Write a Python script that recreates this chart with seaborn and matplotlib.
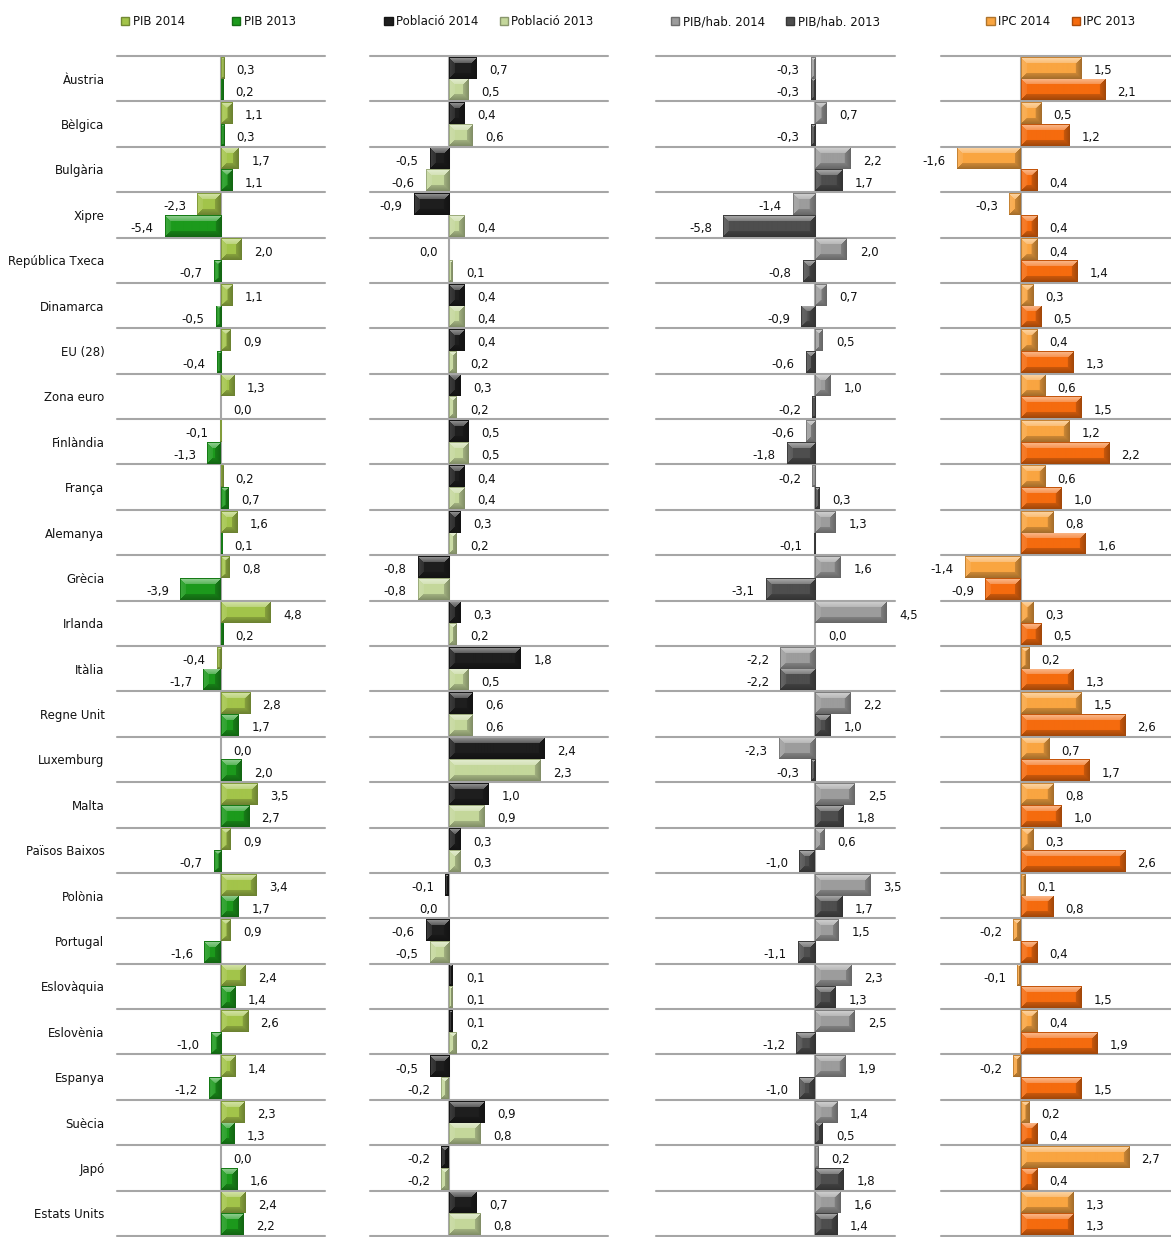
import matplotlib
matplotlib.use('Agg')
import matplotlib.pyplot as plt
import matplotlib.colors as mcolors
from matplotlib.patches import Patch
import numpy as np
import pandas as pd
import seaborn as sns

# --- data ---
countries = ['Àustria', 'Bèlgica', 'Bulgària', 'Xipre', 'República Txeca', 'Dinamarca',
             'EU (28)', 'Zona euro', 'Finlàndia', 'França', 'Alemanya', 'Grècia', 'Irlanda',
             'Itàlia', 'Regne Unit', 'Luxemburg', 'Malta', 'Països Baixos', 'Polònia',
             'Portugal', 'Eslovàquia', 'Eslovènia', 'Espanya', 'Suècia', 'Japó', 'Estats Units']

pib_2014 = [0.3, 1.1, 1.7, -2.3, 2.0, 1.1, 0.9, 1.3, -0.1, 0.2, 1.6, 0.8, 4.8,
            -0.4, 2.8, 0.0, 3.5, 0.9, 3.4, 0.9, 2.4, 2.6, 1.4, 2.3, 0.0, 2.4]
pib_2013 = [0.2, 0.3, 1.1, -5.4, -0.7, -0.5, -0.4, 0.0, -1.3, 0.7, 0.1, -3.9, 0.2,
            -1.7, 1.7, 2.0, 2.7, -0.7, 1.7, -1.6, 1.4, -1.0, -1.2, 1.3, 1.6, 2.2]

# -0.0 marks values that round to zero but sit on the negative side
pob_2014 = [0.7, 0.4, -0.5, -0.9, -0.0, 0.4, 0.4, 0.3, 0.5, 0.4, 0.3, -0.8, 0.3,
            1.8, 0.6, 2.4, 1.0, 0.3, -0.1, -0.6, 0.1, 0.1, -0.5, 0.9, -0.2, 0.7]
pob_2013 = [0.5, 0.6, -0.6, 0.4, 0.1, 0.4, 0.2, 0.2, 0.5, 0.4, 0.2, -0.8, 0.2,
            0.5, 0.6, 2.3, 0.9, 0.3, -0.0, -0.5, 0.1, 0.2, -0.2, 0.8, -0.2, 0.8]

hab_2014 = [-0.3, 0.7, 2.2, -1.4, 2.0, 0.7, 0.5, 1.0, -0.6, -0.2, 1.3, 1.6, 4.5,
            -2.2, 2.2, -2.3, 2.5, 0.6, 3.5, 1.5, 2.3, 2.5, 1.9, 1.4, 0.2, 1.6]
hab_2013 = [-0.3, -0.3, 1.7, -5.8, -0.8, -0.9, -0.6, -0.2, -1.8, 0.3, -0.1, -3.1, 0.0,
            -2.2, 1.0, -0.3, 1.8, -1.0, 1.7, -1.1, 1.3, -1.2, -1.0, 0.5, 1.8, 1.4]

ipc_2014 = [1.5, 0.5, -1.6, -0.3, 0.4, 0.3, 0.4, 0.6, 1.2, 0.6, 0.8, -1.4, 0.3,
            0.2, 1.5, 0.7, 0.8, 0.3, 0.1, -0.2, -0.1, 0.4, -0.2, 0.2, 2.7, 1.3]
ipc_2013 = [2.1, 1.2, 0.4, 0.4, 1.4, 0.5, 1.3, 1.5, 2.2, 1.0, 1.6, -0.9, 0.5,
            1.3, 2.6, 1.7, 1.0, 2.6, 0.8, 0.4, 1.5, 1.9, 1.5, 0.4, 0.4, 1.3]

# (series labels, values, colours, x range, axes left/width in px, legend x, column spacing)
panels = [
    (['PIB 2014', 'PIB 2013'], [pib_2014, pib_2013], ['#A3C44A', '#1C9A1C'],
     (-10, 10), (117, 208), 0.44, 4.0),
    (['Població 2014', 'Població 2013'], [pob_2014, pob_2013], ['#1E1E1E', '#C4D79B'],
     (-2, 4), (370, 238), 0.5, 1.8),
    (['PIB/hab. 2014', 'PIB/hab. 2013'], [hab_2014, hab_2013], ['#9C9C9C', '#4E4E4E'],
     (-10, 5), (656, 239), 0.5, 1.8),
    (['IPC 2014', 'IPC 2013'], [ipc_2014, ipc_2013], ['#F9A541', '#F56B0E'],
     (-2, 4), (941, 240), 0.5, 1.8),
]

W, H = 1171, 1237
TOP, BOTTOM = 56, 1236
TXT = '#111111'
GRID = '#a6a6a6'

sns.set_style('white')
plt.rcParams['font.family'] = ['DejaVu Sans']


def fmt(v):
    if abs(v) < 0.05:
        return '0,0'
    return f'{v:.1f}'.replace('.', ',')


def bevel(ax, patch, color):
    """Paint an Excel-like bevel over a bar (light top/left, dark bottom/right)."""
    w, h = patch.get_width(), patch.get_height()
    if w == 0:
        return
    x0, y0 = patch.get_x(), patch.get_y()
    (px0, py0), (px1, py1) = ax.transData.transform([(x0, y0), (x0 + w, y0 + h)])
    nw = max(int(round(abs(px1 - px0))), 1)
    nh = max(int(round(abs(py1 - py0))), 1)
    jj, ii = np.meshgrid(np.arange(nw) + 0.5, np.arange(nh) + 0.5)
    d = np.stack([ii, nh - ii, jj, nw - jj])
    edge = d.argmin(axis=0)
    dist = d.min(axis=0)
    b = min(6, nh / 3)
    shade = np.zeros((nh, nw))
    for k, f in {0: 0.55, 1: -0.35, 2: 0.15, 3: -0.35}.items():
        m = (edge == k) & (dist < b)
        shade[m] = f * (1 - dist[m] / b * 0.5)
    # thin dark outline
    shade[(dist < 1)] = np.minimum(shade[(dist < 1)], -0.2)
    base = np.array(mcolors.to_rgb(color))
    img = np.where(shade[..., None] > 0,
                   base + (1 - base) * shade[..., None],
                   base * (1 + shade[..., None]))
    img = np.clip(img, 0, 1)
    left, right = min(x0, x0 + w), max(x0, x0 + w)
    im = ax.imshow(img, extent=(left, right, y0 + h, y0), origin='upper',
                   aspect='auto', interpolation='bilinear', zorder=patch.get_zorder() + 0.1)
    im.set_clip_path(patch)


fig = plt.figure(figsize=(W / 100, H / 100), dpi=100)

for i, (labels, series, colors, xlim, (px_left, px_w), leg_x, colsp) in enumerate(panels):
    ax = fig.add_axes([px_left / W, (H - BOTTOM) / H, px_w / W, (BOTTOM - TOP) / H])

    df = pd.DataFrame({
        'country': countries * 2,
        'value': list(series[0]) + list(series[1]),
        'series': [labels[0]] * len(countries) + [labels[1]] * len(countries),
    })
    sns.barplot(data=df, x='value', y='country', hue='series', order=countries,
                hue_order=labels, palette=colors, orient='h', width=0.96,
                saturation=1, errorbar=None, legend=False, linewidth=0, ax=ax)

    ax.set_xlim(*xlim)
    ax.set_ylim(len(countries) - 0.5, -0.5)
    ax.set_xlabel('')
    ax.set_ylabel('')
    ax.set_xticks([])
    for sp in ax.spines.values():
        sp.set_visible(False)

    # separators between countries and the zero line
    for k in range(len(countries) + 1):
        ax.axhline(k - 0.5, color=GRID, lw=1.5, zorder=0.5, clip_on=False)
    ax.axvline(0, color=GRID, lw=1.5, zorder=0.6)

    if i == 0:
        ax.tick_params(axis='y', length=0, pad=9, labelsize=8.5, labelcolor=TXT)
    else:
        ax.set_yticks([])

    for cont, vals, col in zip(ax.containers, series, colors):
        for patch, v in zip(cont.patches, vals):
            bevel(ax, patch, col)
            yc = patch.get_y() + patch.get_height() / 2
            neg = np.signbit(v)
            ax.annotate(fmt(v), xy=(v, yc), xytext=(-8 if neg else 9, -2),
                        textcoords='offset points', ha='right' if neg else 'left',
                        va='center', fontsize=8.5, color=TXT, annotation_clip=False)
    ax.set_xlim(*xlim)
    ax.set_ylim(len(countries) - 0.5, -0.5)

    handles = [Patch(facecolor=c, edgecolor=mcolors.to_hex(np.array(mcolors.to_rgb(c)) * 0.7))
               for c in colors]
    ax.legend(handles, labels, loc='center', bbox_to_anchor=(leg_x, 1 + 34 / (BOTTOM - TOP)),
              ncol=2, frameon=False, fontsize=8.5, handlelength=0.7, handleheight=0.7,
              handletextpad=0.3, columnspacing=colsp, labelcolor=TXT, borderaxespad=0)

fig.savefig('out.png', dpi=100)
